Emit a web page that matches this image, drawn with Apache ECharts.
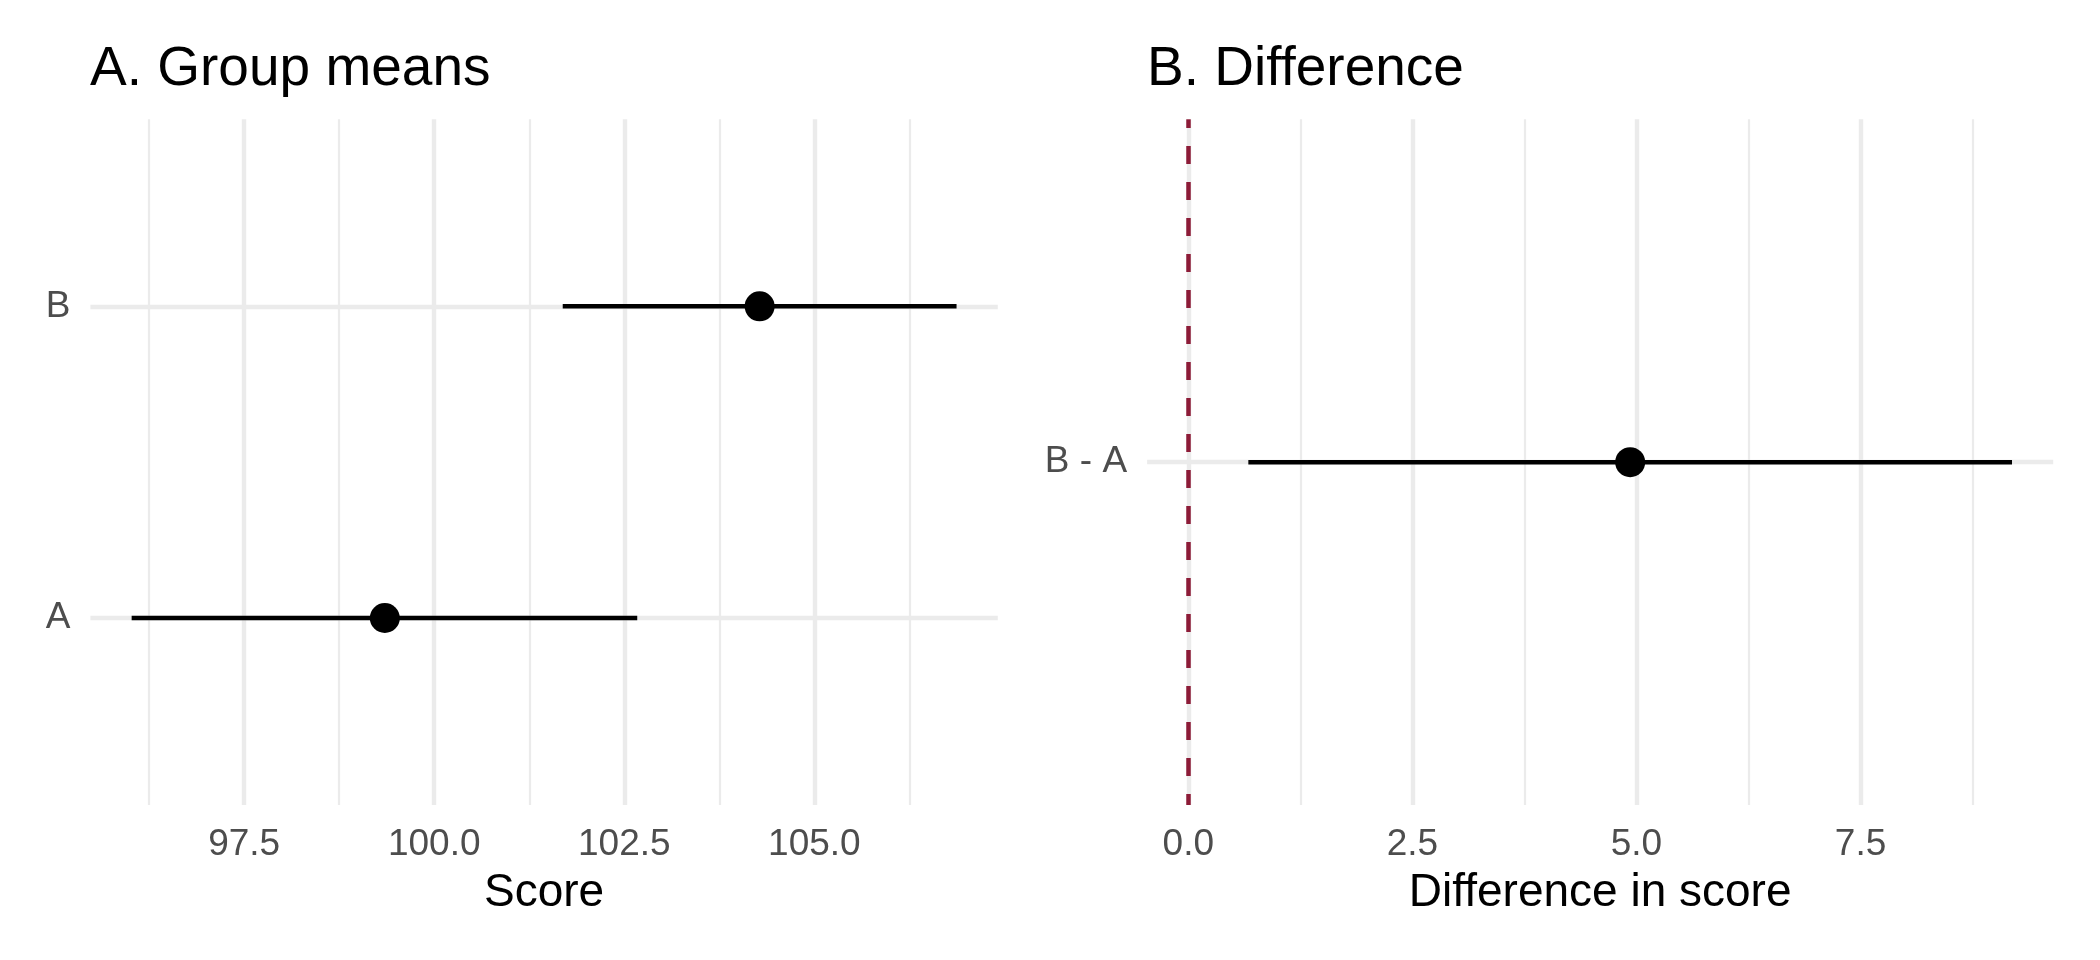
<!DOCTYPE html>
<html>
<head>
    <meta charset="UTF-8">
    <title>Group means and difference</title>
    <script src="https://cdn.jsdelivr.net/npm/echarts@6.0.0/dist/echarts.min.js"></script>
    <style>
        html, body { margin: 0; padding: 0; background: #fff; }
        #chart { width: 2100px; height: 960px; }
    </style>
</head>
<body>
<div id="chart"></div>
<script>
    // panel A: group means with intervals
    var groups = ['A', 'B'];
    var groupMean = [99.35, 104.28];
    var groupLower = [96.02, 101.69];
    var groupUpper = [102.67, 106.87];

    // panel B: difference
    var diffLabels = ['B - A'];
    var diffMean = [4.93];
    var diffLower = [0.67];
    var diffUpper = [9.19];

    // tick values
    var scoreTicks = [97.5, 100, 102.5, 105];
    var scoreMinorTicks = [96.25, 98.75, 101.25, 103.75, 106.25];
    var diffTicks = [0, 2.5, 5, 7.5];
    var diffMinorTicks = [1.25, 3.75, 6.25, 8.75];
    var refLine = 0;

    var FONT = 'Liberation Sans, Arial, Helvetica, sans-serif';
    var GRID_COL = '#ebebeb';

    // ggplot style 5% expansion
    function expand(lo, hi) {
        var pad = (hi - lo) * 0.05;
        return [lo - pad, hi + pad];
    }
    var scoreRange = expand(Math.min.apply(null, groupLower), Math.max.apply(null, groupUpper));
    var diffRange = expand(Math.min(refLine, Math.min.apply(null, diffLower)), Math.max(refLine, Math.max.apply(null, diffUpper)));

    function majorX(grid, range, ticks, name) {
        return {
            type: 'value', gridIndex: grid, min: range[0], max: range[1],
            name: name, nameLocation: 'middle', nameGap: 65,
            nameTextStyle: { fontFamily: FONT, fontSize: 46, color: '#000' },
            axisLine: { show: false },
            axisTick: { show: false, customValues: ticks },
            axisLabel: {
                customValues: ticks, margin: 21,
                fontFamily: FONT, fontSize: 37, color: '#4d4d4d',
                formatter: function (v) { return v.toFixed(1); }
            },
            splitLine: { show: true, lineStyle: { color: GRID_COL, width: 4.4 } }
        };
    }
    function minorX(grid, range, ticks) {
        return {
            type: 'value', gridIndex: grid, min: range[0], max: range[1],
            axisLine: { show: false },
            axisTick: { show: false, customValues: ticks },
            axisLabel: { show: false },
            splitLine: { show: true, lineStyle: { color: GRID_COL, width: 2.2 } }
        };
    }
    function catY(grid, labels) {
        var vals = labels.map(function (l, i) { return i + 1; });
        return {
            type: 'value', gridIndex: grid, min: 0.4, max: labels.length + 0.6,
            axisLine: { show: false },
            axisTick: { show: false, customValues: vals },
            axisLabel: {
                customValues: vals, margin: 20,
                fontFamily: FONT, fontSize: 37, color: '#4d4d4d',
                formatter: function (v) { return labels[Math.round(v) - 1]; }
            },
            splitLine: { show: true, lineStyle: { color: GRID_COL, width: 4.4 } }
        };
    }

    function intervalSeries(xIdx, yIdx, lower, upper) {
        return {
            type: 'custom', xAxisIndex: xIdx, yAxisIndex: yIdx,
            data: lower.map(function (lo, i) { return [lo, upper[i], i + 1]; }),
            encode: { x: [0, 1], y: 2 },
            renderItem: function (params, api) {
                var p1 = api.coord([api.value(0), api.value(2)]);
                var p2 = api.coord([api.value(1), api.value(2)]);
                return {
                    type: 'line',
                    shape: { x1: p1[0], y1: p1[1], x2: p2[0], y2: p2[1] },
                    style: { stroke: '#000', lineWidth: 4.5 }
                };
            },
            z: 3
        };
    }
    function pointSeries(xIdx, yIdx, means) {
        return {
            type: 'scatter', xAxisIndex: xIdx, yAxisIndex: yIdx,
            data: means.map(function (m, i) { return [m, i + 1]; }),
            symbol: 'circle', symbolSize: 30,
            itemStyle: { color: '#000', opacity: 1 },
            z: 4
        };
    }

    var option = {
        animation: false,
        backgroundColor: '#fff',
        title: [
            { text: 'A. Group means', left: 90, top: 42, padding: 0,
              textStyle: { fontFamily: FONT, fontSize: 55, fontWeight: 'normal', color: '#000' } },
            { text: 'B. Difference', left: 1147, top: 42, padding: 0,
              textStyle: { fontFamily: FONT, fontSize: 55, fontWeight: 'normal', color: '#000' } }
        ],
        grid: [
            { left: 90.4, width: 907.4, top: 119.3, bottom: 155, outerBoundsMode: 'none' },
            { left: 1147.1, width: 906.1, top: 119.3, bottom: 155, outerBoundsMode: 'none' }
        ],
        xAxis: [
            majorX(0, scoreRange, scoreTicks, 'Score'),
            minorX(0, scoreRange, scoreMinorTicks),
            majorX(1, diffRange, diffTicks, 'Difference in score'),
            minorX(1, diffRange, diffMinorTicks)
        ],
        yAxis: [
            catY(0, groups),
            catY(1, diffLabels)
        ],
        series: [
            intervalSeries(0, 0, groupLower, groupUpper),
            pointSeries(0, 0, groupMean),
            intervalSeries(2, 1, diffLower, diffUpper),
            pointSeries(2, 1, diffMean),
            {
                // reference line at zero
                type: 'line', xAxisIndex: 2, yAxisIndex: 1, data: [],
                markLine: {
                    silent: true, symbol: 'none', label: { show: false },
                    lineStyle: { color: '#8c1b37', width: 4.5, type: [18, 18], dashOffset: 7 },
                    data: [{ xAxis: refLine }]
                },
                z: 5
            }
        ]
    };

    var myChart = echarts.init(document.getElementById('chart'));
    myChart.setOption(option);
</script>
</body>
</html>
